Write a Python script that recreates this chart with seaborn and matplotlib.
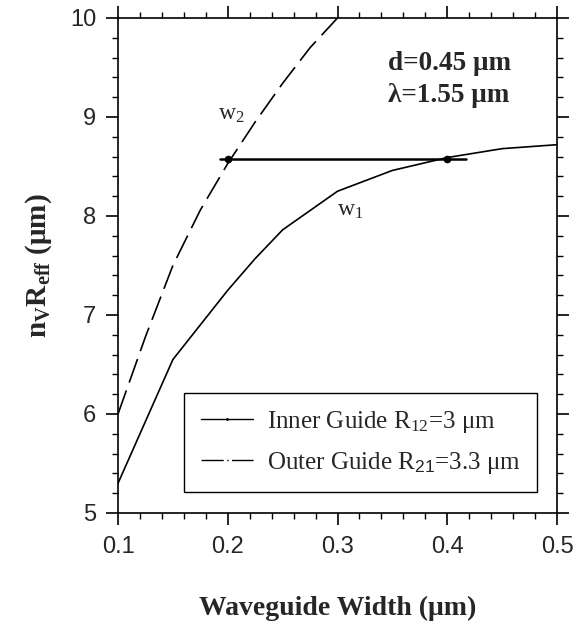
import matplotlib
matplotlib.use("Agg")
import matplotlib.pyplot as plt
from matplotlib.lines import Line2D
from matplotlib.ticker import MultipleLocator, FormatStrFormatter
import seaborn as sns
import pandas as pd

# Data
width = [0.10, 0.15, 0.20, 0.225, 0.25, 0.30, 0.35, 0.40, 0.45, 0.50]
inner_nr = [5.30, 6.55, 7.25, 7.57, 7.86, 8.25, 8.46, 8.59, 8.68, 8.72]
outer_width = [0.10, 0.125, 0.15, 0.175, 0.20, 0.225, 0.25, 0.275, 0.30]
outer_nr = [6.00, 6.78, 7.50, 8.06, 8.53, 8.95, 9.34, 9.70, 10.00]
cross_x = [0.193, 0.417]
cross_y = [8.58, 8.58]
cross_pts_x = [0.20, 0.40]
cross_pts_y = [8.58, 8.58]

sns.set_theme(style="ticks")
plt.rcParams['font.family'] = ['Liberation Sans', 'DejaVu Sans']
plt.rcParams['mathtext.fontset'] = 'custom'
plt.rcParams['mathtext.rm'] = 'Liberation Serif'
plt.rcParams['mathtext.it'] = 'Liberation Serif:italic'
plt.rcParams['mathtext.bf'] = 'Liberation Serif:bold'
plt.rcParams['mathtext.sf'] = 'Liberation Sans'

fig = plt.figure(figsize=(5.74, 6.24), dpi=100)
ax = fig.add_axes([0.2056, 0.1779, 0.7648, 0.7933])

df_in = pd.DataFrame({"w": width, "n": inner_nr})
df_out = pd.DataFrame({"w": outer_width, "n": outer_nr})
sns.lineplot(data=df_in, x="w", y="n", ax=ax, color="black", lw=1.2)
sns.lineplot(data=df_out, x="w", y="n", ax=ax, color="black", lw=1.2)
ax.lines[-1].set_dashes((15, 5))
sns.lineplot(x=cross_x, y=cross_y, ax=ax, color="black", lw=1.8)
sns.scatterplot(x=cross_pts_x, y=cross_pts_y, ax=ax, color="black", s=26,
                edgecolor="black", zorder=5)

ax.set_xlim(0.1, 0.5)
ax.set_ylim(5, 10)
ax.xaxis.set_major_locator(MultipleLocator(0.1))
ax.xaxis.set_minor_locator(MultipleLocator(0.02))
ax.yaxis.set_major_locator(MultipleLocator(1))
ax.yaxis.set_minor_locator(MultipleLocator(0.2))
ax.xaxis.set_major_formatter(FormatStrFormatter('%g'))
ax.yaxis.set_major_formatter(FormatStrFormatter('%g'))
ax.tick_params(which="both", direction="out", top=True, right=True,
               labeltop=False, labelright=False, color="black")
ax.tick_params(which="major", length=8.5, width=1.2, labelsize=17)
ax.tick_params(axis="x", which="major", pad=8)
ax.tick_params(axis="y", which="major", pad=7)
ax.tick_params(which="minor", length=4, width=1.0)
for s in ax.spines.values():
    s.set_color("black")
    s.set_linewidth(1.2)

serif = ['Liberation Serif', 'DejaVu Serif']
ax.set_xlabel("Waveguide Width (\u03bcm)", fontsize=20, fontweight="bold",
              family=serif, labelpad=27)
ax.set_ylabel("n$_\\mathbf{V}$R$_\\mathbf{eff}$ (\u03bcm)", fontsize=21,
              fontweight="bold", family=serif, labelpad=12)

ax.text(0.346, 9.54, "d=0.45 \u03bcm", fontsize=19.5, fontweight="bold",
        family=serif, ha="left", va="center")
ax.text(0.346, 9.22, "\u03bb=1.55 \u03bcm", fontsize=19.5, fontweight="bold",
        family=serif, ha="left", va="center")
ax.text(0.203, 9.02, "w$_2$", fontsize=17, family=serif, ha="center",
        va="center")
ax.text(0.312, 8.06, "w$_1$", fontsize=17, family=serif, ha="center",
        va="center")

h1 = Line2D([], [], color="black", lw=1.0, marker=".", markersize=2)
h2 = Line2D([], [], color="black", lw=1.0, dashes=(16, 2.5, 1, 2.5))
leg = ax.legend([h1, h2],
                ["Inner Guide R$_{12}$=3 \u03bcm",
                 "Outer Guide R$_{\\mathsf{21}}$=3.3 \u03bcm"],
                loc="lower right", bbox_to_anchor=(0.954, 0.042),
                borderaxespad=0,
                prop={"family": serif, "size": 18}, frameon=True,
                fancybox=False, edgecolor="black", handlelength=2.1,
                handletextpad=0.55, borderpad=0.65, labelspacing=0.6)
leg.get_frame().set_linewidth(1.0)
leg.get_frame().set_alpha(1)

fig.savefig("out.png", dpi=100)
